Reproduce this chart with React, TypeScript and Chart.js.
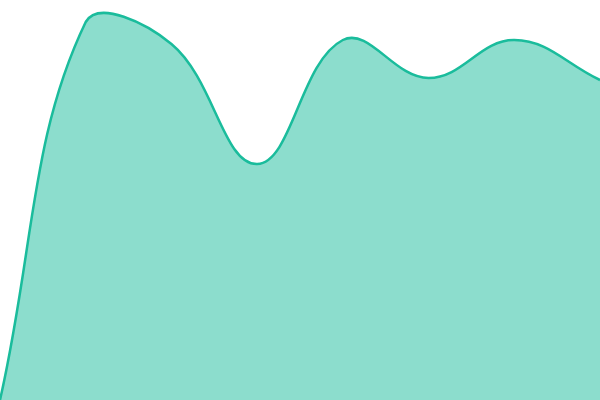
import { useEffect, useRef } from 'react';
import { Chart } from 'chart.js/auto';

const labels = ['1', '2', '3', '4', '5', '6', '7', '8'];
const values = [0, 94.5, 89, 59, 90, 80.5, 90, 80];

export default function App() {
  const canvasRef = useRef<HTMLCanvasElement | null>(null);

  useEffect(() => {
    document.body.style.margin = '0';
    if (!canvasRef.current) return;
    const chart = new Chart(canvasRef.current, {
      type: 'line',
      data: {
        labels: labels,
        datasets: [
          {
            data: values,
            borderColor: 'rgb(26, 188, 156)',
            backgroundColor: 'rgba(26, 188, 156, 0.5)',
            borderWidth: 2.5,
            tension: 0.4,
            fill: true,
            pointRadius: 0,
          },
        ],
      },
      options: {
        responsive: true,
        maintainAspectRatio: false,
        animation: false,
        layout: { padding: 0 },
        plugins: {
          legend: { display: false },
          tooltip: { enabled: false },
        },
        scales: {
          x: { display: false },
          y: { display: false, min: 0, max: 100 },
        },
      },
    });
    return () => chart.destroy();
  }, []);

  return (
    <div style={{ width: '600px', height: '400px', position: 'relative' }}>
      <canvas ref={canvasRef}></canvas>
    </div>
  );
}
